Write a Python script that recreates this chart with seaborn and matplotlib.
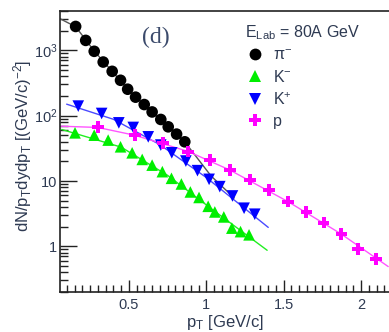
import numpy as np
import pandas as pd
import seaborn as sns
import matplotlib
matplotlib.use("Agg")
import matplotlib.pyplot as plt
from matplotlib.ticker import FixedLocator, FuncFormatter, MultipleLocator, LogLocator, NullFormatter
from matplotlib.lines import Line2D

# ---------------- data ----------------
pim_pt = [0.156, 0.221, 0.276, 0.334, 0.392, 0.446, 0.492, 0.543, 0.599, 0.650, 0.706, 0.754, 0.808, 0.861]
pim_y = [2320, 1420, 966, 662, 477, 348, 254, 192, 148, 114, 87.5, 67.5, 52.2, 39.8]

km_pt = [0.152, 0.276, 0.366, 0.446, 0.521, 0.586, 0.650, 0.716, 0.775, 0.839, 0.897, 0.953,
         1.012, 1.055, 1.113, 1.165, 1.221, 1.276]
km_y = [54.6, 50.3, 42.3, 33.4, 27.0, 21.4, 17.5, 13.9, 11.0, 9.0, 6.8, 5.6,
        4.1, 3.36, 2.82, 1.90, 1.68, 1.50]

kp_pt = [0.173, 0.324, 0.435, 0.528, 0.625, 0.706, 0.777, 0.868, 0.943, 1.018, 1.087, 1.169, 1.244, 1.313]
kp_y = [140, 108, 77.6, 66, 47.4, 35.5, 27, 20.2, 14.4, 10.6, 8.2, 5.9, 3.83, 3.1]

p_pt = [0.302, 0.539, 0.721, 0.883, 1.023, 1.152, 1.281, 1.405, 1.528, 1.646, 1.758, 1.872, 1.979, 2.098]
p_y = [66.7, 50.3, 38.5, 28.2, 20.9, 14.7, 10.5, 7.3, 4.83, 3.33, 2.31, 1.53, 0.92, 0.64]

# fit curves
fit_pim_pt = [0.055, 0.156, 0.28, 0.50, 0.70, 0.86, 1.03, 1.18]
fit_pim_y = [3050, 2300, 950, 245, 88, 40, 12, 5.5]
fit_km_pt = [0.066, 0.45, 0.75, 1.05, 1.393]
fit_km_y = [61.5, 33, 12.2, 3.5, 0.87]
fit_kp_pt = [0.098, 0.40, 0.70, 1.00, 1.40]
fit_kp_y = [150, 88, 36, 11.3, 1.95]
fit_p_pt = [0.061, 0.30, 0.54, 0.88, 1.15, 1.53, 1.87, 2.175]
fit_p_y = [69, 66, 50, 28.5, 14.8, 4.8, 1.55, 0.49]

species = ["π$^{-}$", "K$^{-}$", "K$^{+}$", "p"]
title_txt = "E$_{\\mathrm{Lab}}$ = 80A GeV"

# ---------------- styling ----------------
sns.set_style("ticks")
plt.rcParams["font.family"] = ["Liberation Sans", "DejaVu Sans"]
plt.rcParams["mathtext.fontset"] = "custom"
plt.rcParams["mathtext.rm"] = "Liberation Sans"
plt.rcParams["mathtext.it"] = "Liberation Sans:italic"
plt.rcParams["mathtext.bf"] = "Liberation Sans:bold"

tick_color = "#2e3a52"
colors = {species[0]: "black", species[1]: "#00ee00", species[2]: "#0000ff", species[3]: "#ff00ff"}
line_colors = {species[0]: "#555555", species[1]: "#22ee22", species[2]: "#4a4aff", species[3]: "#ff55ff"}
markers = {species[0]: "o", species[1]: "^", species[2]: "v", species[3]: "P"}

df = pd.concat([
    pd.DataFrame({"pt": pim_pt, "y": pim_y, "sp": species[0]}),
    pd.DataFrame({"pt": km_pt, "y": km_y, "sp": species[1]}),
    pd.DataFrame({"pt": kp_pt, "y": kp_y, "sp": species[2]}),
    pd.DataFrame({"pt": p_pt, "y": p_y, "sp": species[3]}),
], ignore_index=True)

fits = pd.concat([
    pd.DataFrame({"pt": fit_pim_pt, "y": fit_pim_y, "sp": species[0]}),
    pd.DataFrame({"pt": fit_km_pt, "y": fit_km_y, "sp": species[1]}),
    pd.DataFrame({"pt": fit_kp_pt, "y": fit_kp_y, "sp": species[2]}),
    pd.DataFrame({"pt": fit_p_pt, "y": fit_p_y, "sp": species[3]}),
], ignore_index=True)

fig = plt.figure(figsize=(3.89, 3.32), dpi=100)
ax = fig.add_axes([60 / 389, 40 / 332, 1 - 60 / 389, 281 / 332])

sns.lineplot(data=fits, x="pt", y="y", hue="sp", palette=line_colors, sort=False,
             estimator=None, linewidth=1.0, legend=False, ax=ax, zorder=1)
sns.scatterplot(data=df, x="pt", y="y", hue="sp", style="sp", palette=colors, markers=markers,
                s=70, linewidth=0, legend=False, ax=ax, zorder=3)

ax.set_yscale("log")
ax.set_xlim(0.055, 2.18)
ax.set_ylim(0.2, 4000)

# ticks
ax.xaxis.set_major_locator(FixedLocator([0.5, 1.0, 1.5, 2.0]))
ax.xaxis.set_major_formatter(FuncFormatter(lambda v, p: f"{v:g}"))
ax.xaxis.set_minor_locator(MultipleLocator(0.05))
ax.yaxis.set_major_locator(FixedLocator([1, 10, 100, 1000]))
labels = {1: "1", 10: "10", 100: "10$^{2}$", 1000: "10$^{3}$"}
ax.yaxis.set_major_formatter(FuncFormatter(lambda v, p: labels.get(int(round(v)), "")))
ax.yaxis.set_minor_locator(LogLocator(base=10, subs=np.arange(2, 10)))
ax.yaxis.set_minor_formatter(NullFormatter())

ax.tick_params(axis="both", which="both", direction="in", color="#222222", labelcolor=tick_color,
               labelsize=10.5, width=1.0)
ax.tick_params(axis="x", which="major", length=9, pad=4)
ax.tick_params(axis="x", which="minor", length=5)
ax.tick_params(axis="y", which="major", length=12, pad=2)
ax.tick_params(axis="y", which="minor", length=6)

for s in ["left", "bottom", "top"]:
    ax.spines[s].set_visible(True)
    ax.spines[s].set_color("#222222")
    ax.spines[s].set_linewidth(1.2)
ax.spines["right"].set_visible(False)

ax.set_xlabel("p$_{\\mathrm{T}}$ [GeV/c]", fontsize=12, color=tick_color, labelpad=1)
ax.set_ylabel("dN/p$_{\\mathrm{T}}$dydp$_{\\mathrm{T}}$ [(GeV/c)$^{-2}$]", fontsize=12, color=tick_color)
ax.yaxis.set_label_coords(-0.078, 0.52)

ax.text(0.29, 0.905, "(d)", transform=ax.transAxes, fontsize=17, color="#3b4a6b",
        family=["Liberation Serif", "DejaVu Serif"], ha="center", va="center")

handles = [Line2D([], [], linestyle="none", marker=markers[s], color=colors[s], markersize=8.5,
                  markeredgewidth=0) for s in species]
leg = ax.legend(handles, species, title=title_txt, loc="upper left",
                bbox_to_anchor=((234 - 60) / 329, 1 - 1 / 281), frameon=False,
                fontsize=11.5, title_fontsize=11.5, handlelength=1.2, handletextpad=0.55,
                labelspacing=0.38, borderpad=0.2)
leg._legend_box.align = "left"
for t in leg.get_texts():
    t.set_color(tick_color)
leg.get_title().set_color(tick_color)

fig.savefig("out.png", dpi=100)
